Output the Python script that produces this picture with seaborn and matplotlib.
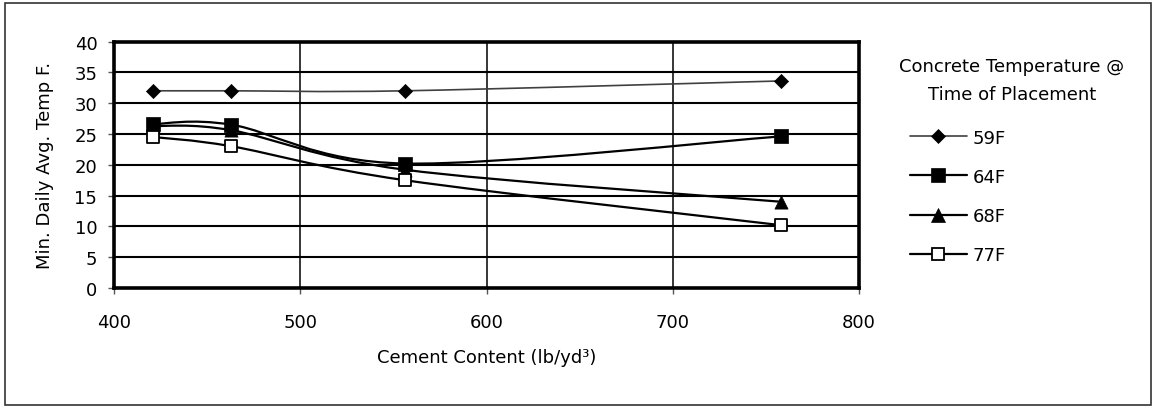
import numpy as np
import pandas as pd
import matplotlib
matplotlib.use("Agg")
import matplotlib.pyplot as plt
from matplotlib.path import Path
from matplotlib.patches import PathPatch, Rectangle
from matplotlib.lines import Line2D
import seaborn as sns

# Cement content (lb/yd3) and minimum daily average temperature (F)
cement = [421, 463, 556, 758]
temp_59F = [32.0, 32.0, 32.0, 33.6]
temp_64F = [26.6, 26.5, 20.2, 24.6]
temp_68F = [26.3, 25.6, 19.2, 14.0]
temp_77F = [24.5, 23.0, 17.5, 10.2]
series_names = ["59F", "64F", "68F", "77F"]
x_ticks = [400, 500, 600, 700, 800]
y_ticks = [0, 5, 10, 15, 20, 25, 30, 35, 40]

FS = 13
sns.set_style("white")
plt.rcParams["font.family"] = ["DejaVu Sans"]
plt.rcParams["font.size"] = FS
plt.rcParams["text.color"] = "black"
plt.rcParams["axes.labelcolor"] = "black"
plt.rcParams["xtick.labelcolor"] = "black"
plt.rcParams["ytick.labelcolor"] = "black"

df = pd.DataFrame({
    "cement": cement * 4,
    "temp": temp_59F + temp_64F + temp_68F + temp_77F,
    "series": [s for s in series_names for _ in cement],
})

W, H = 1155, 410
fig = plt.figure(figsize=(W / 100, H / 100), dpi=100)
ax = fig.add_axes([114 / W, 1 - 289 / H, 745 / W, 246.5 / H])

styles = {
    "59F": dict(marker="D", s=7.2 ** 2, fc="black", ec="black", lw_line=1.2, lc="#404040", mew=0.5, z=5),
    "64F": dict(marker="s", s=10.0 ** 2, fc="black", ec="black", lw_line=1.6, lc="black", mew=0.5, z=7),
    "68F": dict(marker="^", s=9.5 ** 2, fc="black", ec="black", lw_line=1.6, lc="black", mew=0.5, z=6),
    "77F": dict(marker="s", s=9.0 ** 2, fc="white", ec="black", lw_line=1.6, lc="black", mew=1.3, z=8),
}


def smooth_path(xs, ys):
    """Cubic Bezier path through the points (Catmull-Rom style tangents)."""
    pts = np.column_stack([xs, ys]).astype(float)
    n = len(pts)
    tang = np.zeros_like(pts)
    for i in range(n):
        prev_p = pts[i - 1] if i > 0 else pts[i]
        next_p = pts[i + 1] if i < n - 1 else pts[i]
        tang[i] = next_p - prev_p
    verts = [pts[0]]
    codes = [Path.MOVETO]
    for i in range(n - 1):
        verts += [pts[i] + tang[i] / 6, pts[i + 1] - tang[i + 1] / 6, pts[i + 1]]
        codes += [Path.CURVE4] * 3
    return Path(verts, codes)


for name in series_names:
    st = styles[name]
    sub = df[df["series"] == name]
    patch = PathPatch(smooth_path(sub["cement"].values, sub["temp"].values),
                      facecolor="none", edgecolor=st["lc"], lw=st["lw_line"],
                      zorder=st["z"] - 2, capstyle="butt", joinstyle="round")
    ax.add_patch(patch)
    sns.scatterplot(data=sub, x="cement", y="temp", marker=st["marker"], s=st["s"],
                    color=st["fc"], edgecolor=st["ec"], linewidth=st["mew"],
                    zorder=st["z"], ax=ax, legend=False)

ax.set_xlim(400, 800)
ax.set_ylim(0, 40)
ax.set_xticks(x_ticks)
ax.set_yticks(y_ticks)
ax.grid(False)
for yv in y_ticks[1:-1]:
    ax.axhline(yv, color="black", lw=1.5, zorder=1)
for xv in x_ticks[1:-1]:
    ax.axvline(xv, color="black", lw=1.1, zorder=1)

for sp in ax.spines.values():
    sp.set_linewidth(2.6)
    sp.set_color("black")
    sp.set_zorder(10)

ax.tick_params(axis="y", which="major", direction="out", length=4, width=1.0,
               color="#555555", pad=8, labelsize=FS, labelcolor="black", left=True)
ax.tick_params(axis="x", which="major", direction="out", length=4, width=1.0,
               color="#555555", pad=14, labelsize=FS, labelcolor="black", bottom=True)

ax.set_xlabel("Cement Content (lb/yd³)", fontsize=FS, color="black")
ax.set_ylabel("Min. Daily Avg. Temp F.", fontsize=FS, color="black")
ax.xaxis.set_label_coords(0.5, -0.245)
ax.yaxis.set_label_coords(-0.08, 0.5)

# Legend title and entries
fig.text(1012 / W, 1 - 67 / H, "Concrete Temperature @", ha="center", va="center",
         fontsize=FS, color="black")
fig.text(1012 / W, 1 - 95 / H, "Time of Placement", ha="center", va="center",
         fontsize=FS, color="black")
handles = []
for name in series_names:
    st = styles[name]
    handles.append(Line2D([], [], color=st["lc"], lw=st["lw_line"], marker=st["marker"],
                          markersize=np.sqrt(st["s"]), markerfacecolor=st["fc"],
                          markeredgecolor=st["ec"], markeredgewidth=st["mew"]))
leg = ax.legend(handles, series_names, loc="upper left",
                bbox_to_anchor=(910 / W, 1 - 129.5 / H), bbox_transform=fig.transFigure,
                frameon=False, borderpad=0, borderaxespad=0, handlelength=3.15,
                handletextpad=0.33, labelspacing=1.18, fontsize=FS)
for t in leg.get_texts():
    t.set_color("black")

# Outer border of the chart area
fig.patches.append(Rectangle((5 / W, 4 / H), (1151 - 5) / W, (406 - 4) / H,
                             transform=fig.transFigure, fill=False,
                             edgecolor="#333333", lw=1.2))

fig.savefig("out.png", dpi=100)
